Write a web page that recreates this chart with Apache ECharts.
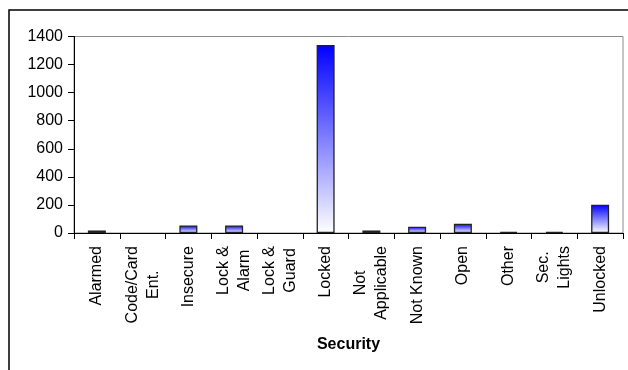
<!DOCTYPE html>
<html>
<head>
<meta charset="utf-8">
<script src="https://cdn.jsdelivr.net/npm/echarts@6/dist/echarts.min.js"></script>
<style>html,body{margin:0;padding:0;background:#fff;}#c{width:628px;height:370px;}</style>
</head>
<body>
<div id="c"></div>
<script>
var categories = ['Alarmed', 'Code/Card\nEnt.', 'Insecure', 'Lock &\nAlarm', 'Lock &\nGuard', 'Locked', 'Not\nApplicable', 'Not Known', 'Open', 'Other', 'Sec.\nLights', 'Unlocked'];
var values = [18, 0, 54, 54, 0, 1340, 18, 45, 66, 8, 8, 201];
var yTicks = [0, 200, 400, 600, 800, 1000, 1200, 1400];
var axisTitle = 'Security';

var chart = echarts.init(document.getElementById('c'), null, {renderer: 'canvas'});
var FONT = 'Liberation Sans, Arial, sans-serif';
chart.setOption({
  animation: false,
  backgroundColor: '#fff',
  graphic: [{
    type: 'rect', shape: {x: 9, y: 10, width: 700, height: 500},
    style: {fill: 'none', stroke: '#000', lineWidth: 1.5}, silent: true
  }],
  grid: {left: 74, right: 5, top: 36.5, bottom: 137, show: true, borderColor: '#8c8c8c', borderWidth: 1, backgroundColor: 'transparent'},
  xAxis: {
    type: 'category', data: categories,
    axisLine: {lineStyle: {color: '#000', width: 1}},
    axisTick: {show: true, length: 6, lineStyle: {color: '#000'}},
    axisLabel: {
      rotate: 90, margin: 13, color: '#000', fontFamily: FONT, fontSize: 16, interval: 0,
      formatter: function (v) {
        return v.split('\n').map(function (s) { return '{c|' + s + '}'; }).join('\n');
      },
      rich: {c: {align: 'center', fontFamily: FONT, fontSize: 16, lineHeight: 21, color: '#000'}}
    },
    name: axisTitle, nameLocation: 'middle', nameGap: 104,
    nameTextStyle: {fontFamily: FONT, fontSize: 16, fontWeight: 'bold', color: '#000'}
  },
  yAxis: {
    type: 'value', min: yTicks[0], max: yTicks[yTicks.length - 1], interval: 200,
    splitLine: {show: false},
    axisLine: {show: true, lineStyle: {color: '#000', width: 1}},
    axisTick: {show: true, length: 6, lineStyle: {color: '#000'}},
    axisLabel: {color: '#000', fontFamily: FONT, fontSize: 16, margin: 11, formatter: function (v) { return String(v); }}
  },
  series: [{
    type: 'bar', barWidth: 18,
    data: values.map(function (v) { return v === 0 ? {value: v, itemStyle: {borderWidth: 0, opacity: 0}} : v; }),
    itemStyle: {
      color: new echarts.graphic.LinearGradient(0, 0, 0, 1, [
        {offset: 0, color: '#0000ff'}, {offset: 1, color: '#ffffff'}
      ]),
      borderColor: '#222', borderWidth: 1.3
    }
  }]
});
</script>
</body>
</html>
